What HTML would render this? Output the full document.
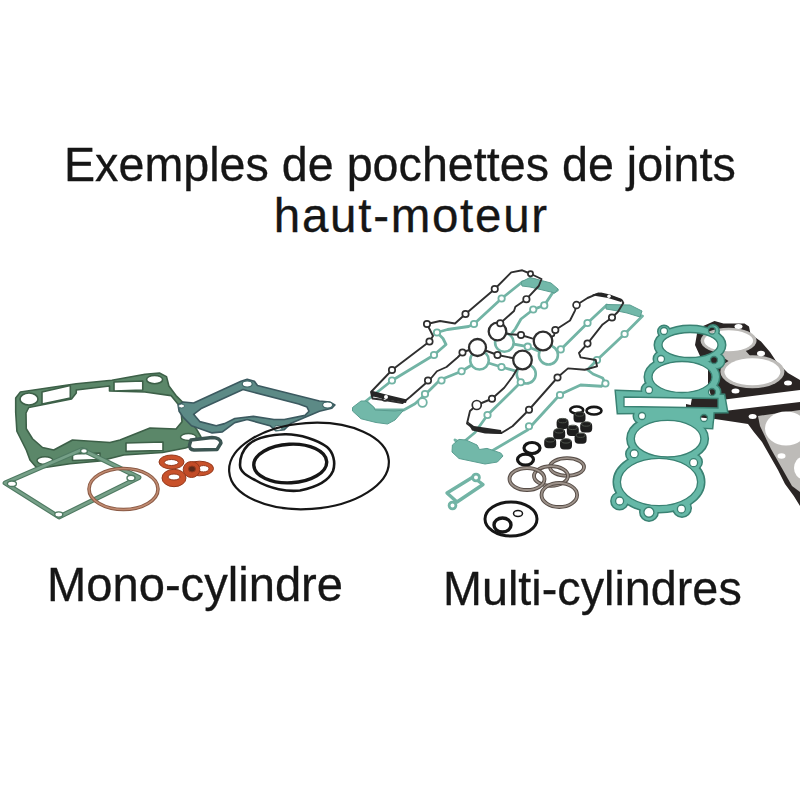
<!DOCTYPE html>
<html><head><meta charset="utf-8">
<style>
html,body{margin:0;padding:0;background:#fff;}
body{width:800px;height:800px;position:relative;overflow:hidden;font-family:"Liberation Sans",sans-serif;color:#161616;-webkit-text-stroke:0.3px #161616;}
.t{position:absolute;white-space:nowrap;line-height:1;transform-origin:0 0;}
svg{position:absolute;left:0;top:0;filter:blur(0.35px);}
</style></head><body>
<svg width="800" height="800" viewBox="0 0 800 800">
<!-- ===== MONO GROUP ===== -->
<g id="mono">
 <!-- base gasket -->
 <path d="M15.7,398 L20.4,392 L76.2,383.75 L111.9,380.2 L145.1,374.25 L159.4,373 L166.5,376.6 L168.9,386 L176,395.6 L185.5,405 L192.6,424 L197,430 L201,437 L196,444 L185.5,448 L162.5,452.5 L123.75,455 L100,461 L70,463.75 L45,467.5 L36,467 L30,460 L26.4,450.25 L16.9,431.25 L15.7,412.25 Z
  M26,413 L28.75,407.5 L71.5,399 L76.25,393 L76.25,390 L109.5,386 L109.5,391 L145,392 L171,395.6 L180.75,407.5 L182,421.75 L176,429 L150,428 L120,440 L110,442.5 L72.5,440 L53.75,450 L42.5,447.5 L32.5,438.75 L26.25,428.75 Z
  M42,392 L70.3,385.5 L70.3,398 L42,404 Z M114,382 L142.75,381 L142.75,390 L114,391 Z M126,443 L163,442 L163,450.5 L126,451.4 Z M72.5,454 L100,453 L100,459.5 L72.5,460.5 Z"
  fill="#5b8769" fill-rule="evenodd" stroke="#3d6048" stroke-width="1.6" stroke-linejoin="round"/>
 <ellipse cx="29" cy="399" rx="9" ry="6" fill="#fff" stroke="#3d6048" stroke-width="1.6"/>
 <ellipse cx="154.6" cy="379.6" rx="8" ry="4.2" fill="#fff" stroke="#3d6048" stroke-width="1.6"/>
 <ellipse cx="45" cy="460.6" rx="8" ry="3.8" fill="#fff" stroke="#3d6048" stroke-width="1.4"/>
 <ellipse cx="188.4" cy="437" rx="7.9" ry="3.5" fill="#fff" stroke="#3d6048" stroke-width="1.4"/>
 <!-- small port gasket -->
 <path d="M191,440 L212,437.5 Q220,437.5 221,443 L217,449.5 L194,450 Q189,449.5 189.5,445 Z" fill="#fff" stroke="#3b5552" stroke-width="3.4" stroke-linejoin="round"/>
 
 <!-- exhaust gasket (bottom-left) -->
 <path d="M5,483 L82,449.5 L139,477.5 L59,517 Z" fill="none" stroke="#4f7a62" stroke-width="4.8" stroke-linejoin="round"/>
 <path d="M5,483 L82,449.5 L139,477.5 L59,517 Z" fill="none" stroke="#76a088" stroke-width="2.6" stroke-linejoin="round"/>
 <g fill="#fff" stroke="#4f7a62" stroke-width="1.4">
 <ellipse cx="11.9" cy="483.75" rx="4.5" ry="2.8"/>
 <ellipse cx="84" cy="451" rx="3.5" ry="2.5"/>
 <ellipse cx="131" cy="478" rx="4" ry="2.8"/>
 <ellipse cx="58.75" cy="514.5" rx="4" ry="2.6"/>
 </g>
 <!-- head gasket -->
 <path d="M178.1,405 L183.25,402 L193.6,403 L241,381.3 L247.2,379.3 L254.4,381.3 L257.5,385.5 L319.4,401 L329.7,402 L334.9,405 L331.8,408.2 L319.4,411.25 L290.5,423.6 L284.3,429.8 L276,430.8 L269.9,425.7 L247.2,419.5 L234.8,422.6 L222.4,431.9 L212.1,432.9 L191.5,425.7 L183.25,417.4 L179.1,411.25 Z
  M193.6,414.3 L201.8,408.2 L243,389.6 L298.75,404 L307,407.1 L309,411.25 L305,415.4 L284.3,419.5 L274,419.5 L253.4,416.4 L234.8,418.5 L224.5,423.6 L216.25,425.7 L199.75,421.6 Z"
  fill="#5c8a86" fill-rule="evenodd" stroke="#3c5a60" stroke-width="1.6" stroke-linejoin="round"/>
 <ellipse cx="247.2" cy="384" rx="5" ry="3" fill="#fff" stroke="#3f6667" stroke-width="1.2"/>
 <ellipse cx="327.6" cy="405" rx="5" ry="3" fill="#fff" stroke="#3f6667" stroke-width="1.2"/>
 <ellipse cx="181.5" cy="406" rx="3" ry="2" fill="#fff" stroke="#3f6667" stroke-width="1"/>
 <ellipse cx="278" cy="428" rx="4" ry="2.5" fill="#fff" stroke="#3f6667" stroke-width="1"/>
 <!-- copper ring -->
 <ellipse cx="123.5" cy="489" rx="34.5" ry="20.5" fill="none" stroke="#8a5a45" stroke-width="3.6"/>
 <ellipse cx="123.5" cy="489" rx="34.5" ry="20.5" fill="none" stroke="#c08a70" stroke-width="1.6"/>
 <!-- orange washers -->
 <g stroke="#93391c" stroke-width="1">
  <ellipse cx="199.5" cy="468.5" rx="14" ry="7.3" fill="#c9522b"/>
  <ellipse cx="203.5" cy="468.75" rx="5.5" ry="3.2" fill="#fff"/>
  <ellipse cx="191.5" cy="469.5" rx="8.3" ry="8" fill="#c24b26"/>
  <ellipse cx="192" cy="469" rx="3.5" ry="3" fill="#5a2a1a"/>
  <ellipse cx="174" cy="478" rx="12" ry="8.7" fill="#c9522b"/>
  <ellipse cx="174" cy="477" rx="6" ry="3" fill="#fff"/>
  <ellipse cx="171.5" cy="462" rx="12.5" ry="7" fill="#c9522b"/>
  <ellipse cx="171.3" cy="462.5" rx="7" ry="3" fill="#fff"/>
 </g>
 <!-- O-rings -->
 <ellipse cx="309" cy="466" rx="80" ry="43" transform="rotate(-4 309 466)" fill="none" stroke="#161616" stroke-width="2.2"/>
 <path d="M240,465 C240,456 243,450 248,445 C254,439 265,435 285,434.25 C300,434 318,440 327,447 C333,452 336,462 333,471 C330,478 322,486 300,490.5 C288,492 270,489 255,480 C247,476 240,472 240,465 Z" fill="none" stroke="#161616" stroke-width="2.6"/>
 <ellipse cx="290.25" cy="463.5" rx="36.5" ry="19.3" transform="rotate(-3 290.25 463.5)" fill="none" stroke="#161616" stroke-width="3.4"/>
</g>

<!-- ===== MULTI GROUP ===== -->
<g id="multi">
 <!-- lower black head gasket -->
 <path d="M686,404 L720,411.5 L800,402 L800,506 L793.8,496 L785,484 L778,470 L771,457.8 L762,442 L753.5,431.5 L748,424 L735,422 L715,419 L695,417 L686,410 Z" fill="#2a2524"/>
 <path d="M758,416 L800,410 L800,492 L792,486 L771,449 L760,426 Z" fill="#bdbbb8"/>
 <ellipse cx="786" cy="428.5" rx="21" ry="17" fill="#fff"/>
 <ellipse cx="803" cy="468" rx="9" ry="11" fill="#fff"/>
 <ellipse cx="752.6" cy="416.6" rx="4" ry="2.5" fill="#fff"/>
 <ellipse cx="781.5" cy="456" rx="4" ry="2.8" fill="#fff"/>
 <!-- upper black head gasket -->
 <path d="M698,328 L705.5,325 L714.5,321 L723.5,323.5 L744.5,323.5 L749,326.5 L750.5,334 L761,341.5 L770,352 L776,361 L788,373 L800,380 L800,390 L721,400 L712,400 L708,385 L708,365 L700,356 L695,345 Z" fill="#2a2524"/>
 <path d="M692,398 L720,397 L722,410 L690,409 Z" fill="#2a2524"/>
 <path d="M712,350 L745,350 L752,358 L730,362 Z" fill="#bdbbb8"/>
 <ellipse cx="728.6" cy="340.8" rx="28" ry="13" fill="#bdbbb8"/>
 <ellipse cx="728.6" cy="340.8" rx="24.5" ry="10.5" fill="#fff"/>
 <ellipse cx="752.4" cy="371.8" rx="32" ry="16.5" fill="#bdbbb8"/>
 <ellipse cx="752.4" cy="371.8" rx="28" ry="13.5" fill="#fff"/>
 <ellipse cx="738.5" cy="326.5" rx="4" ry="2.5" fill="#fff"/>
 <ellipse cx="761" cy="353.5" rx="4" ry="2.8" fill="#fff"/>
 <ellipse cx="788" cy="383" rx="4" ry="2.5" fill="#fff"/>
 <ellipse cx="735.5" cy="391" rx="4" ry="2.5" fill="#fff"/>
 <!-- teal cylinder gasket -->
 <defs><g id="tealshape">
  <ellipse cx="690" cy="345" rx="35" ry="19"/>
  <ellipse cx="682" cy="377" rx="37" ry="22"/>
  <ellipse cx="667.6" cy="438.7" rx="40" ry="24.5"/>
  <ellipse cx="659" cy="482" rx="45" ry="30"/>
  <path d="M616,391 L724,395 L727,412 L618,413 Z"/>
  <path d="M650,380 L716,384 L712,428 L640,425 Z"/>
    <circle cx="664" cy="331.5" r="5.5"/><circle cx="713" cy="331" r="5.5"/>
  <circle cx="661" cy="359" r="7"/><circle cx="717" cy="361" r="7"/>
  <circle cx="649" cy="390" r="7"/><circle cx="713" cy="392" r="7"/>
  <circle cx="641" cy="416" r="7"/><circle cx="706" cy="418" r="7"/>
  <circle cx="634" cy="454" r="7.5"/><circle cx="694" cy="462" r="7.5"/>
  <circle cx="619.6" cy="501" r="8"/><circle cx="649" cy="512" r="8.5"/><circle cx="682" cy="508" r="8.5"/><circle cx="642" cy="416" r="7"/>
 </g></defs>
 <mask id="tmask" maskUnits="userSpaceOnUse" x="0" y="0" width="800" height="800"><rect x="0" y="0" width="800" height="800" fill="#fff"/><g fill="#000"><ellipse cx="690" cy="345" rx="28" ry="12.5"/>
  <ellipse cx="682" cy="377" rx="30" ry="15.5"/>
  <ellipse cx="667.6" cy="438.7" rx="33.3" ry="18.3"/>
  <ellipse cx="659" cy="482" rx="38.6" ry="23.6"/>
  <path d="M624,397 L718,398.5 L718,408 L624,406.5 Z"/>
  <circle cx="664" cy="331" r="3.5"/><circle cx="712" cy="330.5" r="3.5"/>
  <circle cx="661" cy="359" r="3.5"/><circle cx="714" cy="360" r="3.5"/>
  <circle cx="649" cy="390" r="3.5"/><circle cx="712" cy="392" r="3.5"/>
  <circle cx="642" cy="416" r="3.5"/><circle cx="704" cy="418" r="3.5"/>
  <circle cx="634.25" cy="453.75" r="4"/><circle cx="693.6" cy="462.7" r="4"/>
  <circle cx="619.6" cy="501" r="4"/><circle cx="648.9" cy="512.25" r="5"/><circle cx="681.4" cy="509" r="4"/></g></mask>
 <g mask="url(#tmask)">
 <use href="#tealshape" fill="#3a8273" stroke="#3a8273" stroke-width="3"/>
 <use href="#tealshape" fill="#66b8a7"/>
 </g>
 <g fill="none" stroke="#3a8273" stroke-width="1.3">
  <ellipse cx="690" cy="345" rx="28" ry="12.5"/>
  <ellipse cx="682" cy="377" rx="30" ry="15.5"/>
  <ellipse cx="667.6" cy="438.7" rx="33.3" ry="18.3"/>
  <ellipse cx="659" cy="482" rx="38.6" ry="23.6"/>
  <path d="M624,397 L718,398.5 L718,408 L624,406.5 Z"/>
  <circle cx="664" cy="331" r="3.5"/><circle cx="712" cy="330.5" r="3.5"/>
  <circle cx="661" cy="359" r="3.5"/><circle cx="714" cy="360" r="3.5"/>
  <circle cx="649" cy="390" r="3.5"/><circle cx="712" cy="392" r="3.5"/>
  <circle cx="642" cy="416" r="3.5"/><circle cx="704" cy="418" r="3.5"/>
  <circle cx="634.25" cy="453.75" r="4"/><circle cx="693.6" cy="462.7" r="4"/>
  <circle cx="619.6" cy="501" r="4"/><circle cx="648.9" cy="512.25" r="5"/><circle cx="681.4" cy="509" r="4"/>
 </g>
 <!-- valve cover gaskets: teal loop -->
 <g fill="none" stroke-linejoin="round" stroke-linecap="round">
 <path d="M366,401 L392,380.5 L434,355 L446,344.5 L443,338.5 L437,332.5 L447.5,329.5 L468.5,326.5 L474,324 L501.6,298.5 L522.25,282 L535,280 L557.5,290 L552.5,293 L544.25,305.4 L533.25,309.5 L521,319 L515.4,328.75 L504.4,342.5 L527.75,346.7 L548.4,355 L560.75,349.4 L587.5,323 L606.75,305 L642.5,316 L624.6,334 L597,360 L587.5,369.75 L593,374 L602.6,378 L605.4,383.5 L601.25,386.25 L580.6,385 L560,394.5 L527.5,430 L485,455 L455,440 L460,445 L475,432.5 L487.5,415 L509.75,393.25 L520.75,382.25 L526.25,374 L501.5,367 L479.5,360.25 L461.6,371.25 L440,380 L426,393.75 L415,403.75 L403.75,410 L375,410 L366,401 Z" stroke="#72b4a5" stroke-width="2.8"/>
 </g>
 <g fill="#fff" stroke="#72b4a5" stroke-width="1.8">
  <circle cx="504.4" cy="342.5" r="9.3" stroke-width="2.6"/><circle cx="548.4" cy="355" r="9.5" stroke-width="2.6"/>
  <circle cx="479.5" cy="360.25" r="9.3" stroke-width="2.6"/><circle cx="526.25" cy="374" r="9.5" stroke-width="2.6"/>
  <circle cx="422.5" cy="402.5" r="4.3"/>
  <circle cx="392" cy="380.5" r="3.2"/><circle cx="434" cy="355" r="3.2"/><circle cx="437" cy="332.5" r="3.2"/>
  <circle cx="474" cy="324" r="3.2"/><circle cx="501.6" cy="298.5" r="3.2"/><circle cx="544.25" cy="305.4" r="3.2"/><circle cx="533.25" cy="309.5" r="3.2"/>
  <circle cx="527.75" cy="346.7" r="3.2"/><circle cx="560.75" cy="349.4" r="3.2"/><circle cx="587.5" cy="323" r="3.2"/>
  <circle cx="624.6" cy="334" r="3.2"/><circle cx="597" cy="360" r="3.2"/><circle cx="605.4" cy="383.5" r="3.2"/>
  <circle cx="560" cy="395" r="3.2"/><circle cx="529" cy="426.25" r="3.2"/><circle cx="487.5" cy="415" r="3.2"/>
  <circle cx="520.75" cy="382.25" r="3.2"/><circle cx="501.5" cy="367" r="3.2"/><circle cx="461.6" cy="371.25" r="3.2"/>
  <circle cx="441.5" cy="380.5" r="3.2"/><circle cx="425" cy="394" r="3.2"/>
 </g>
 <!-- teal end plates -->
 <g fill="#72b8a9" stroke="#5a9d90" stroke-width="1">
  <path d="M352.5,407.5 L361,401 L366,401 L373.75,407 L375,410 L395,411 L403.75,410 L395,420 L387.5,424 L376,422.5 L361,418.75 L352.5,411 Z"/>
  <path d="M521,282 L530,277.5 L551,283 L558,289 L555,293 L530,287 L522,286 Z"/>
  <path d="M606,304.5 L630,305 L642,311 L640,317 L627,313 L615,310.5 L606,309 Z"/>
  <path d="M452.4,445 L459,439.4 L466,440 L477,445 L479.4,449.5 L487,448.4 L500.75,453 L503,456 L497.4,462 L485,464 L459,458.5 L452,452 Z"/>
 </g>
 <!-- black loop -->
 <path d="M371,392 L392,370 L429.5,341.5 L433,336 L427,324 L440,321 L455,323.5 L465.5,314 L494.75,289 L511.25,272.4 L522.25,270.3 L530.5,273.75 L541.5,279 L538.75,286 L526.4,299.2 L515.4,306.75 L514,311 L500.25,323.25 L497.5,331.5 L510,334.25 L521,335 L532,338.4 L543,341 L554,335.6 L555.3,330 L570,320.5 L575,310.6 L576.5,305 L587.5,298 L598.5,293.4 L609.5,296.2 L622,300.3 L623.3,303 L617.8,312 L612,317.5 L602.6,324.4 L587.5,343.6 L579,353 L580.6,357.4 L595.75,360 L597,366.3 L584.75,369.75 L568,368.4 L560,375.3 L557.5,377.5 L529,409.75 L512.5,426.25 L501.5,433 L485,431.75 L474,429 L467,423.5 L470,411 L476.75,405 L492,398.75 L504.25,387.75 L512.5,376.75 L522.5,360 L497.5,355 L477.5,347.5 L463,352 L457.5,357.5 L446.5,367 L436.9,371.25 L430,379.5 L410,397 L402.5,403 L384.5,400 L372.5,398.5 Z" fill="none" stroke="#2f2f2f" stroke-width="1.9" stroke-linejoin="round"/>
 <g fill="#fff" stroke="#2f2f2f" stroke-width="1.7">
  <circle cx="497.5" cy="331.5" r="8.8" stroke-width="2.3"/><circle cx="543" cy="341" r="9.3" stroke-width="2.3"/>
  <circle cx="477.5" cy="347.5" r="8.5" stroke-width="2.3"/><circle cx="522.5" cy="360" r="9.3" stroke-width="2.3"/>
  <circle cx="392" cy="370" r="3.2"/><circle cx="429.5" cy="341.5" r="3.2"/><circle cx="427" cy="324" r="3.2"/>
  <circle cx="465.5" cy="314" r="3.2"/><circle cx="494.75" cy="289" r="3.2"/><circle cx="526.4" cy="299.2" r="3.2"/><circle cx="530.5" cy="273.75" r="2.6"/>
  <circle cx="500.25" cy="323.25" r="3.2"/><circle cx="521" cy="335" r="3.2"/><circle cx="555.3" cy="330" r="3.2"/>
  <circle cx="576.5" cy="305" r="3.4"/><circle cx="612" cy="317.5" r="3.2"/><circle cx="587.5" cy="343.6" r="3.2"/>
  <circle cx="557.5" cy="377.5" r="3.2"/><circle cx="529" cy="409.75" r="3.2"/><circle cx="492" cy="398.75" r="3.2"/>
  <circle cx="476.75" cy="405" r="4.5"/><circle cx="497.5" cy="355" r="3.2"/>
  <circle cx="462.5" cy="352.5" r="3.2"/><circle cx="428" cy="380.5" r="3.2"/><circle cx="385" cy="398.5" r="2.4"/>
  
 </g>
 <g fill="#262626">
  <path d="M371,390.5 L386,394.5 L407,399.5 L406,403 L386,399.5 L371,396 Z"/>
  <circle cx="386" cy="397" r="2" fill="#fff"/><circle cx="483" cy="431" r="2" fill="#fff"/>
  <path d="M467,421 L474,426 L501,430 L502,434 L485,433.5 L472,430.5 Z"/>
  
  <path d="M592,294.5 L601,292.5 L610,294.5 L622,299 L621,302 L608,298 L596,296 Z"/>
  <circle cx="609" cy="296.3" r="1.8" fill="#fff"/>
 </g>
 <!-- small teal gasket -->
 <path d="M447,493 L473,477 L483,484.5 L457,502 Z" fill="none" stroke="#72b4a5" stroke-width="3.4" stroke-linejoin="round"/>
 <circle cx="476" cy="477.5" r="3.4" fill="#fff" stroke="#72b4a5" stroke-width="2.8"/>
 <circle cx="452.5" cy="505.5" r="3.4" fill="#fff" stroke="#72b4a5" stroke-width="2.8"/>
 <!-- o-rings -->
 <ellipse cx="511" cy="519" rx="26" ry="17" fill="none" stroke="#161616" stroke-width="3"/>
 <ellipse cx="502.5" cy="525" rx="8.5" ry="7" fill="none" stroke="#161616" stroke-width="3.4"/>
 <ellipse cx="518" cy="513.5" rx="4.5" ry="3" fill="none" stroke="#161616" stroke-width="1.5"/>
 <ellipse cx="525.5" cy="459.6" rx="8" ry="5.5" fill="none" stroke="#161616" stroke-width="3.2"/>
 <ellipse cx="532" cy="448" rx="8" ry="5.5" fill="none" stroke="#161616" stroke-width="3.2"/>
 <ellipse cx="576.7" cy="410" rx="6.5" ry="3.5" fill="none" stroke="#161616" stroke-width="2.6"/>
 <ellipse cx="594" cy="410.7" rx="7.5" ry="3.8" fill="none" stroke="#161616" stroke-width="2.6"/>
 <!-- metal rings -->
 <g fill="none">
  <ellipse cx="567" cy="467" rx="17" ry="8.8" stroke="#574d47" stroke-width="3.8"/><ellipse cx="567" cy="467" rx="17" ry="8.8" stroke="#9d928a" stroke-width="1.8"/>
  <ellipse cx="551" cy="476" rx="17" ry="9.8" stroke="#574d47" stroke-width="3.8"/><ellipse cx="551" cy="476" rx="17" ry="9.8" stroke="#9d928a" stroke-width="1.8"/>
  <ellipse cx="527" cy="479" rx="17.5" ry="11" stroke="#574d47" stroke-width="3.8"/><ellipse cx="527" cy="479" rx="17.5" ry="11" stroke="#9d928a" stroke-width="1.8"/>
  <ellipse cx="559.3" cy="495" rx="17.8" ry="12" stroke="#574d47" stroke-width="3.8"/><ellipse cx="559.3" cy="495" rx="17.8" ry="12" stroke="#9d928a" stroke-width="1.8"/>
 </g>
 <!-- valve stem seals -->
 <g>
  <rect x="556.6" y="418.6" width="12" height="10.5" rx="4" fill="#1e1e1e"/><ellipse cx="562.6" cy="420.6" rx="4.5" ry="2.2" fill="none" stroke="#4a5048" stroke-width="1"/>
  <rect x="573.5" y="412.0" width="12" height="10.5" rx="4" fill="#1e1e1e"/><ellipse cx="579.5" cy="414.0" rx="4.5" ry="2.2" fill="none" stroke="#4a5048" stroke-width="1"/>
  <rect x="580.2" y="422.0" width="12" height="10.5" rx="4" fill="#1e1e1e"/><ellipse cx="586.2" cy="424.0" rx="4.5" ry="2.2" fill="none" stroke="#4a5048" stroke-width="1"/>
  <rect x="566.8" y="425.4" width="12" height="10.5" rx="4" fill="#1e1e1e"/><ellipse cx="572.8" cy="427.4" rx="4.5" ry="2.2" fill="none" stroke="#4a5048" stroke-width="1"/>
  <rect x="553.2" y="428.8" width="12" height="10.5" rx="4" fill="#1e1e1e"/><ellipse cx="559.2" cy="430.8" rx="4.5" ry="2.2" fill="none" stroke="#4a5048" stroke-width="1"/>
  <rect x="574.6" y="433.2" width="12" height="10.5" rx="4" fill="#1e1e1e"/><ellipse cx="580.6" cy="435.2" rx="4.5" ry="2.2" fill="none" stroke="#4a5048" stroke-width="1"/>
  <rect x="544.2" y="437.8" width="12" height="10.5" rx="4" fill="#1e1e1e"/><ellipse cx="550.2" cy="439.8" rx="4.5" ry="2.2" fill="none" stroke="#4a5048" stroke-width="1"/>
  <rect x="560.0" y="438.9" width="12" height="10.5" rx="4" fill="#1e1e1e"/><ellipse cx="566.0" cy="440.9" rx="4.5" ry="2.2" fill="none" stroke="#4a5048" stroke-width="1"/>
 </g>
</g>
</svg>
<div class="t" id="t1" style="left:64px;top:141.3px;font-size:48px;transform:scaleX(0.972);">Exemples de pochettes de joints</div>
<div class="t" id="t2" style="left:273.8px;top:191.8px;font-size:47.5px;letter-spacing:1.72px;">haut-moteur</div>
<div class="t" id="t3" style="left:47px;top:561.2px;font-size:48px;transform:scaleX(0.982);">Mono-cylindre</div>
<div class="t" id="t4" style="left:442.8px;top:564.5px;font-size:48px;transform:scaleX(0.974);">Multi-cylindres</div>
</body></html>
